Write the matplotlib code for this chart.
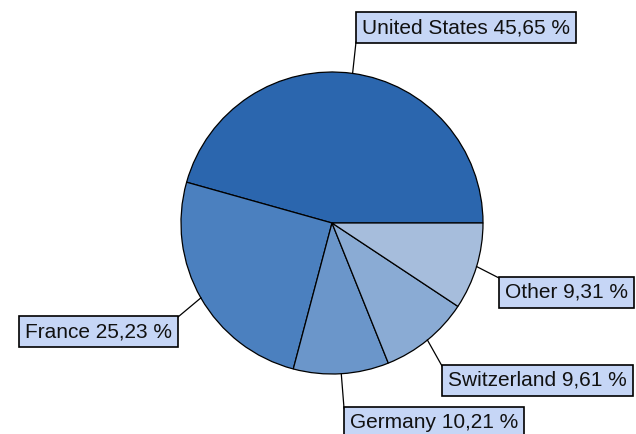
import numpy as np
import matplotlib
matplotlib.use("Agg")
import matplotlib.pyplot as plt

countries = ["United States", "France", "Germany", "Switzerland", "Other"]
shares = [45.65, 25.23, 10.21, 9.61, 9.31]
colors = ["#2b66ae", "#4b80bf", "#6b96ca", "#8aabd4", "#a6bddc"]

W, H = 636, 434
fig = plt.figure(figsize=(W / 100, H / 100), dpi=100)
ax = fig.add_axes([0, 0, 1, 1])

cx, cy, r = 332, H - 223, 151
wedges, _ = ax.pie(shares, colors=colors, startangle=0, counterclock=True,
                   center=(cx, cy), radius=r,
                   wedgeprops=dict(edgecolor="black", linewidth=0.9))
ax.set_xlim(0, W)
ax.set_ylim(0, H)
ax.set_aspect("equal")
ax.axis("off")

# label box anchor (corner the leader line meets), side of text
label_pos = {
    "United States": ((356, 42), "bl"),
    "France": ((178, 317), "tr"),
    "Germany": ((344, 408), "tl"),
    "Switzerland": ((442, 366), "tl"),
    "Other": ((499, 278), "tl"),
}
box_h = 29
pad = 6

for w, name, val in zip(wedges, countries, shares):
    mid = np.deg2rad((w.theta1 + w.theta2) / 2)
    ex, ey = cx + r * np.cos(mid), cy + r * np.sin(mid)
    (bx, by), corner = label_pos[name]
    by = H - by
    ax.plot([ex, bx], [ey, by], color="black", lw=0.9, zorder=1)
    yc = by + box_h / 2 if corner[0] == "b" else by - box_h / 2
    label = f"{name} {val:.2f} %".replace(".", ",")
    if corner[1] == "l":
        tx, ha = bx + pad, "left"
    else:
        tx, ha = bx - pad, "right"
    ax.text(tx, yc, label, ha=ha, va="center", fontsize=15,
            family="Liberation Sans", color="#111111", zorder=3,
            bbox=dict(boxstyle="square,pad=0.29", facecolor="#c6d6f6",
                      edgecolor="black", linewidth=1.2))

fig.savefig("out.png", dpi=100)
